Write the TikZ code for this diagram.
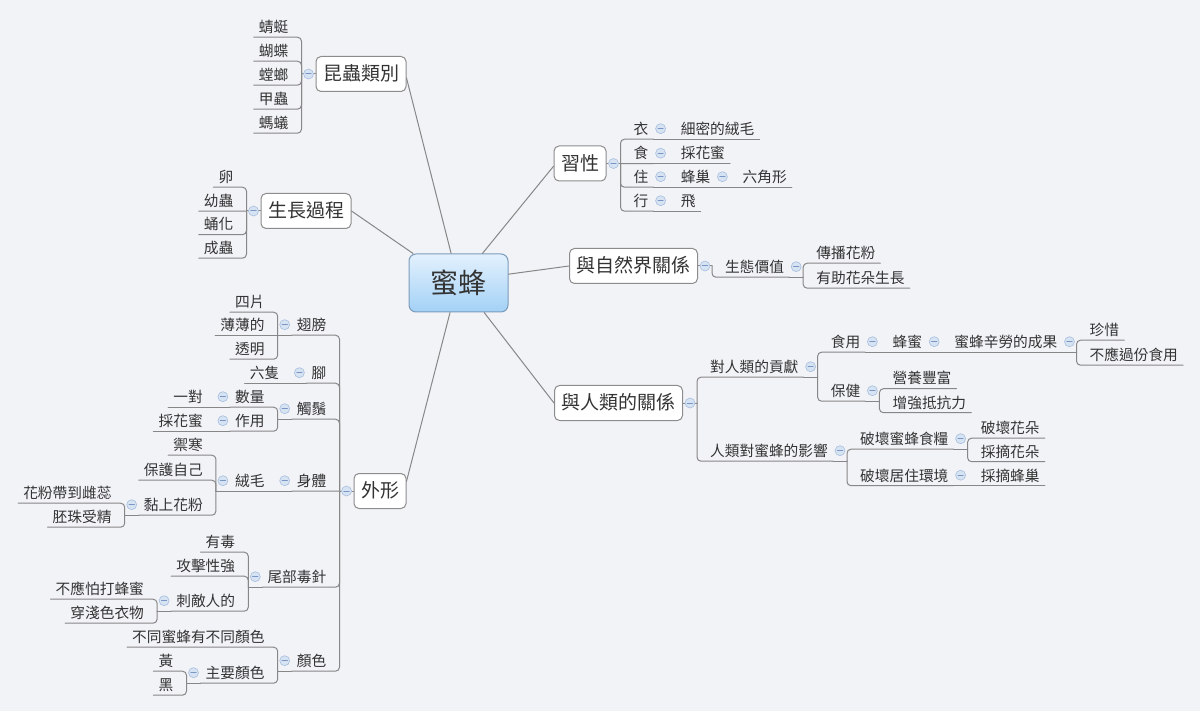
\documentclass[tikz,border=0pt]{standalone}
\usepackage{fontspec}
\setmainfont{Noto Sans CJK TC}
\definecolor{paper}{HTML}{F2F3F7}
\definecolor{ink}{HTML}{333333}
\definecolor{wire}{HTML}{878787}
\definecolor{frame}{HTML}{8C8C8C}
\definecolor{coreline}{HTML}{7C9CBB}
\definecolor{coretop}{HTML}{E3F1FD}
\definecolor{corebot}{HTML}{A3D1F6}
\definecolor{foldfill}{HTML}{D6E3F3}
\definecolor{foldline}{HTML}{A7BEDD}
\definecolor{foldbar}{HTML}{7B96C2}
\tikzset{
  core/.style={draw=coreline,line width=1pt,rounded corners=7pt,top color=coretop,bottom color=corebot,
    minimum width=99pt,minimum height=58pt,inner sep=0pt,text=ink,font=\fontsize{28pt}{30pt}\selectfont},
  topic/.style={draw=frame,line width=1pt,rounded corners=5pt,fill=white,minimum height=35pt,
    inner xsep=7pt,inner ysep=0pt,text height=16pt,text depth=2.5pt,text=ink,font=\fontsize{19pt}{21pt}\selectfont},
  leaf/.style={inner xsep=5pt,inner ysep=2.5pt,text height=14pt,text depth=2pt,text=ink,
    font=\fontsize{14.7pt}{16pt}\selectfont},
  branch/.style={draw=wire,line width=1pt},
  link/.style={draw=wire,line width=1pt,rounded corners=4pt},
  fold/.style={circle,draw=foldline,fill=foldfill,line width=0.6pt,minimum size=10pt,inner sep=0pt,
    path picture={\draw[foldbar,line width=1pt] ([xshift=-2.6pt]path picture bounding box.center)
      -- ([xshift=2.6pt]path picture bounding box.center);}}
}
\begin{document}
\begin{tikzpicture}[x=1pt,y=-1pt,line join=round,line cap=round]
  \useasboundingbox (0,0) rectangle (1200,711);
  \fill[paper] (0,0) rectangle (1200,711);

  % 中心主題與六個分支
  \node[core] (bee) at (458.5,283) {蜜蜂};
  \node[topic] (kc) at (361,74) {昆蟲類別};
  \node[topic] (sg) at (306,211) {生長過程};
  \node[topic] (xx) at (580,163.5) {習性};
  \node[topic] (zr) at (633.5,266) {與自然界關係};
  \node[topic] (rl) at (618.5,403) {與人類的關係};
  \node[topic] (wx) at (380,491) {外形};

  \draw[branch] (bee.104) -- (kc.-5);
  \draw[branch] (bee.147) -- (sg.east);
  \draw[branch] (bee.51) -- (xx.186);
  \draw[branch] (bee.10) -- (zr.west);
  \draw[branch] (bee.-49) -- (rl.west);
  \draw[branch] (bee.-106) -- (wx.20);

  % 昆蟲類別
  \draw[link] (kc.west) -- node[fold] (kc-f) {} ++(-14,0) coordinate (kc-t);
  \node[leaf,anchor=east,xshift=-8pt] (kc1) at (kc-t |- 0,26.5) {蜻蜓};
  \node[leaf,anchor=east,xshift=-8pt] (kc2) at (kc-t |- 0,50.5) {蝴蝶};
  \node[leaf,anchor=east,xshift=-8pt] (kc3) at (kc-t |- 0,74.5) {螳螂};
  \node[leaf,anchor=east,xshift=-8pt] (kc4) at (kc-t |- 0,98.5) {甲蟲};
  \node[leaf,anchor=east,xshift=-8pt] (kc5) at (kc-t |- 0,122.5) {螞蟻};
  \draw[link] (kc-t) |- (kc1.south east) -- (kc1.south west);
  \draw[link] (kc-t) |- (kc2.south east) -- (kc2.south west);
  \draw[link] (kc-t) |- (kc3.south east) -- (kc3.south west);
  \draw[link] (kc-t) |- (kc4.south east) -- (kc4.south west);
  \draw[link] (kc-t) |- (kc5.south east) -- (kc5.south west);

  % 生長過程
  \draw[link] (sg.west) -- node[fold] (sg-f) {} ++(-14,0) coordinate (sg-t);
  \node[leaf,anchor=east,xshift=-8pt] (sg1) at (sg-t |- 0,176.5) {卵};
  \node[leaf,anchor=east,xshift=-8pt] (sg2) at (sg-t |- 0,200.5) {幼蟲};
  \node[leaf,anchor=east,xshift=-8pt] (sg3) at (sg-t |- 0,224) {蛹化};
  \node[leaf,anchor=east,xshift=-8pt] (sg4) at (sg-t |- 0,247.5) {成蟲};
  \draw[link] (sg-t) |- (sg1.south east) -- (sg1.south west);
  \draw[link] (sg-t) -- (sg2.south east) -- (sg2.south west);
  \draw[link] (sg-t) |- (sg3.south east) -- (sg3.south west);
  \draw[link] (sg-t) |- (sg4.south east) -- (sg4.south west);

  % 習性
  \draw[link] (xx.east) -- node[fold] (xx-f) {} ++(14,0) coordinate (xx-t);
  \node[leaf,anchor=west,xshift=8pt] (xx1) at (xx-t |- 0,128.5) {衣};
  \node[leaf,anchor=west,xshift=8pt] (xx2) at (xx-t |- 0,153) {食};
  \node[leaf,anchor=west,xshift=8pt] (xx3) at (xx-t |- 0,176.5) {住};
  \node[leaf,anchor=west,xshift=8pt] (xx4) at (xx-t |- 0,200.5) {行};
  \draw[link] (xx-t) |- (xx1.south west) -- (xx1.south east);
  \draw[link] (xx-t) -- (xx2.south west) -- (xx2.south east);
  \draw[link] (xx-t) |- (xx3.south west) -- (xx3.south east);
  \draw[link] (xx-t) |- (xx4.south west) -- (xx4.south east);

  \draw[link] (xx1.south east) -- node[fold,yshift=10.5pt] (xx1-f) {} ++(14,0) coordinate (xx1-t);
  \node[leaf,anchor=west,xshift=8pt] (xx1a) at (xx1-t |- 0,128.5) {細密的絨毛};
  \draw[link] (xx1-t) -- (xx1a.south west) -- (xx1a.south east);
  \draw[link] (xx2.south east) -- node[fold,yshift=10.5pt] (xx2-f) {} ++(14,0) coordinate (xx2-t);
  \node[leaf,anchor=west,xshift=8pt] (xx2a) at (xx2-t |- 0,153) {採花蜜};
  \draw[link] (xx2-t) -- (xx2a.south west) -- (xx2a.south east);
  \draw[link] (xx3.south east) -- node[fold,yshift=10.5pt] (xx3-f) {} ++(14,0) coordinate (xx3-t);
  \node[leaf,anchor=west,xshift=8pt] (xx3a) at (xx3-t |- 0,176.5) {蜂巢};
  \draw[link] (xx3-t) -- (xx3a.south west) -- (xx3a.south east);
  \draw[link] (xx3a.south east) -- node[fold,yshift=10.5pt] (xx3a-f) {} ++(14,0) coordinate (xx3a-t);
  \node[leaf,anchor=west,xshift=8pt] (xx3b) at (xx3a-t |- 0,176.5) {六角形};
  \draw[link] (xx3a-t) -- (xx3b.south west) -- (xx3b.south east);
  \draw[link] (xx4.south east) -- node[fold,yshift=10.5pt] (xx4-f) {} ++(14,0) coordinate (xx4-t);
  \node[leaf,anchor=west,xshift=8pt] (xx4a) at (xx4-t |- 0,200.5) {飛};
  \draw[link] (xx4-t) -- (xx4a.south west) -- (xx4a.south east);

  % 與自然界關係
  \draw[link] (zr.east) -- node[fold] (zr-f) {} ++(14,0) coordinate (zr-t);
  \node[leaf,anchor=west,xshift=8pt] (zr1) at (zr-t |- 0,266.5) {生態價值};
  \draw[link] (zr-t) |- (zr1.south west) -- (zr1.south east);
  \draw[link] (zr1.south east) -- node[fold,yshift=10.5pt] (zr1-f) {} ++(14,0) coordinate (zr1-t);
  \node[leaf,anchor=west,xshift=8pt] (zr1a) at (zr1-t |- 0,252.5) {傳播花粉};
  \node[leaf,anchor=west,xshift=8pt] (zr1b) at (zr1-t |- 0,277.5) {有助花朵生長};
  \draw[link] (zr1-t) |- (zr1a.south west) -- (zr1a.south east);
  \draw[link] (zr1-t) |- (zr1b.south west) -- (zr1b.south east);

  % 與人類的關係
  \draw[link] (rl.east) -- node[fold] (rl-f) {} ++(14,0) coordinate (rl-t);
  \node[leaf,anchor=west,xshift=8pt] (rl1) at (rl-t |- 0,366.5) {對人類的貢獻};
  \node[leaf,anchor=west,xshift=8pt] (rl2) at (rl-t |- 0,450.5) {人類對蜜蜂的影響};
  \draw[link] (rl-t) |- (rl1.south west) -- (rl1.south east);
  \draw[link] (rl-t) |- (rl2.south west) -- (rl2.south east);

  \draw[link] (rl1.south east) -- node[fold,yshift=10.5pt] (rl1-f) {} ++(14,0) coordinate (rl1-t);
  \node[leaf,anchor=west,xshift=8pt] (rl1a) at (rl1-t |- 0,341.5) {食用};
  \node[leaf,anchor=west,xshift=8pt] (rl1b) at (rl1-t |- 0,390.5) {保健};
  \draw[link] (rl1-t) |- (rl1a.south west) -- (rl1a.south east);
  \draw[link] (rl1-t) |- (rl1b.south west) -- (rl1b.south east);

  \draw[link] (rl1a.south east) -- node[fold,yshift=10.5pt] (rl1a-f) {} ++(14,0) coordinate (rl1a-t);
  \node[leaf,anchor=west,xshift=8pt] (rl1a1) at (rl1a-t |- 0,341.5) {蜂蜜};
  \draw[link] (rl1a-t) -- (rl1a1.south west) -- (rl1a1.south east);
  \draw[link] (rl1a1.south east) -- node[fold,yshift=10.5pt] (rl1a1-f) {} ++(14,0) coordinate (rl1a1-t);
  \node[leaf,anchor=west,xshift=8pt] (rl1a2) at (rl1a1-t |- 0,341.5) {蜜蜂辛勞的成果};
  \draw[link] (rl1a1-t) -- (rl1a2.south west) -- (rl1a2.south east);
  \draw[link] (rl1a2.south east) -- node[fold,yshift=10.5pt] (rl1a2-f) {} ++(14,0) coordinate (rl1a2-t);
  \node[leaf,anchor=west,xshift=8pt] (rl1a3) at (rl1a2-t |- 0,329.5) {珍惜};
  \node[leaf,anchor=west,xshift=8pt] (rl1a4) at (rl1a2-t |- 0,354.5) {不應過份食用};
  \draw[link] (rl1a2-t) |- (rl1a3.south west) -- (rl1a3.south east);
  \draw[link] (rl1a2-t) |- (rl1a4.south west) -- (rl1a4.south east);

  \draw[link] (rl1b.south east) -- node[fold,yshift=10.5pt] (rl1b-f) {} ++(14,0) coordinate (rl1b-t);
  \node[leaf,anchor=west,xshift=8pt] (rl1b1) at (rl1b-t |- 0,378) {營養豐富};
  \node[leaf,anchor=west,xshift=8pt] (rl1b2) at (rl1b-t |- 0,402) {增強抵抗力};
  \draw[link] (rl1b-t) |- (rl1b1.south west) -- (rl1b1.south east);
  \draw[link] (rl1b-t) |- (rl1b2.south west) -- (rl1b2.south east);

  \draw[link] (rl2.south east) -- node[fold,yshift=10.5pt] (rl2-f) {} ++(14,0) coordinate (rl2-t);
  \node[leaf,anchor=west,xshift=8pt] (rl2a) at (rl2-t |- 0,438.5) {破壞蜜蜂食糧};
  \node[leaf,anchor=west,xshift=8pt] (rl2b) at (rl2-t |- 0,475) {破壞居住環境};
  \draw[link] (rl2-t) |- (rl2a.south west) -- (rl2a.south east);
  \draw[link] (rl2-t) |- (rl2b.south west) -- (rl2b.south east);

  \draw[link] (rl2a.south east) -- node[fold,yshift=10.5pt] (rl2a-f) {} ++(14,0) coordinate (rl2a-t);
  \node[leaf,anchor=west,xshift=8pt] (rl2a1) at (rl2a-t |- 0,427.5) {破壞花朵};
  \node[leaf,anchor=west,xshift=8pt] (rl2a2) at (rl2a-t |- 0,451) {採摘花朵};
  \draw[link] (rl2a-t) |- (rl2a1.south west) -- (rl2a1.south east);
  \draw[link] (rl2a-t) |- (rl2a2.south west) -- (rl2a2.south east);
  \draw[link] (rl2b.south east) -- node[fold,yshift=10.5pt] (rl2b-f) {} ++(14,0) coordinate (rl2b-t);
  \node[leaf,anchor=west,xshift=8pt] (rl2b1) at (rl2b-t |- 0,475) {採摘蜂巢};
  \draw[link] (rl2b-t) -- (rl2b1.south west) -- (rl2b1.south east);

  % 外形
  \draw[link] (wx.west) -- node[fold] (wx-f) {} ++(-14,0) coordinate (wx-t);
  \node[leaf,anchor=east,xshift=-8pt] (wx1) at (wx-t |- 0,324.5) {翅膀};
  \node[leaf,anchor=east,xshift=-8pt] (wx2) at (wx-t |- 0,372.5) {腳};
  \node[leaf,anchor=east,xshift=-8pt] (wx3) at (wx-t |- 0,408.5) {觸鬚};
  \node[leaf,anchor=east,xshift=-8pt] (wx4) at (wx-t |- 0,480.5) {身體};
  \node[leaf,anchor=east,xshift=-8pt] (wx5) at (wx-t |- 0,576.5) {尾部毒針};
  \node[leaf,anchor=east,xshift=-8pt] (wx6) at (wx-t |- 0,660.5) {顏色};
  \draw[link] (wx-t) |- (wx1.south east) -- (wx1.south west);
  \draw[link] (wx-t) |- (wx2.south east) -- (wx2.south west);
  \draw[link] (wx-t) |- (wx3.south east) -- (wx3.south west);
  \draw[link] (wx-t) -- (wx4.south east) -- (wx4.south west);
  \draw[link] (wx-t) |- (wx5.south east) -- (wx5.south west);
  \draw[link] (wx-t) |- (wx6.south east) -- (wx6.south west);

  % 翅膀、腳、觸鬚
  \draw[link] (wx1.south west) -- node[fold,yshift=10.5pt] (wx1-f) {} ++(-14,0) coordinate (wx1-t);
  \node[leaf,anchor=east,xshift=-8pt] (wx1a) at (wx1-t |- 0,301.5) {四片};
  \node[leaf,anchor=east,xshift=-8pt] (wx1b) at (wx1-t |- 0,324.5) {薄薄的};
  \node[leaf,anchor=east,xshift=-8pt] (wx1c) at (wx1-t |- 0,348.5) {透明};
  \draw[link] (wx1-t) |- (wx1a.south east) -- (wx1a.south west);
  \draw[link] (wx1-t) -- (wx1b.south east) -- (wx1b.south west);
  \draw[link] (wx1-t) |- (wx1c.south east) -- (wx1c.south west);

  \draw[link] (wx2.south west) -- node[fold,yshift=10.5pt] (wx2-f) {} ++(-14,0) coordinate (wx2-t);
  \node[leaf,anchor=east,xshift=-8pt] (wx2a) at (wx2-t |- 0,372.5) {六隻};
  \draw[link] (wx2-t) -- (wx2a.south east) -- (wx2a.south west);

  \draw[link] (wx3.south west) -- node[fold,yshift=10.5pt] (wx3-f) {} ++(-14,0) coordinate (wx3-t);
  \node[leaf,anchor=east,xshift=-8pt] (wx3a) at (wx3-t |- 0,396.5) {數量};
  \node[leaf,anchor=east,xshift=-8pt] (wx3b) at (wx3-t |- 0,420.5) {作用};
  \draw[link] (wx3-t) |- (wx3a.south east) -- (wx3a.south west);
  \draw[link] (wx3-t) |- (wx3b.south east) -- (wx3b.south west);
  \draw[link] (wx3a.south west) -- node[fold,yshift=10.5pt] (wx3a-f) {} ++(-14,0) coordinate (wx3a-t);
  \node[leaf,anchor=east,xshift=-8pt] (wx3a1) at (wx3a-t |- 0,396.5) {一對};
  \draw[link] (wx3a-t) -- (wx3a1.south east) -- (wx3a1.south west);
  \draw[link] (wx3b.south west) -- node[fold,yshift=10.5pt] (wx3b-f) {} ++(-14,0) coordinate (wx3b-t);
  \node[leaf,anchor=east,xshift=-8pt] (wx3b1) at (wx3b-t |- 0,420.5) {採花蜜};
  \draw[link] (wx3b-t) -- (wx3b1.south east) -- (wx3b1.south west);

  % 身體
  \draw[link] (wx4.south west) -- node[fold,yshift=10.5pt] (wx4-f) {} ++(-14,0) coordinate (wx4-t);
  \node[leaf,anchor=east,xshift=-8pt] (wx4a) at (wx4-t |- 0,480.5) {絨毛};
  \draw[link] (wx4-t) -- (wx4a.south east) -- (wx4a.south west);
  \draw[link] (wx4a.south west) -- node[fold,yshift=10.5pt] (wx4a-f) {} ++(-14,0) coordinate (wx4a-t);
  \node[leaf,anchor=east,xshift=-8pt] (wx4a1) at (wx4a-t |- 0,444.5) {禦寒};
  \node[leaf,anchor=east,xshift=-8pt] (wx4a2) at (wx4a-t |- 0,469.5) {保護自己};
  \node[leaf,anchor=east,xshift=-8pt] (wx4a3) at (wx4a-t |- 0,504.5) {黏上花粉};
  \draw[link] (wx4a-t) |- (wx4a1.south east) -- (wx4a1.south west);
  \draw[link] (wx4a-t) |- (wx4a2.south east) -- (wx4a2.south west);
  \draw[link] (wx4a-t) |- (wx4a3.south east) -- (wx4a3.south west);
  \draw[link] (wx4a3.south west) -- node[fold,yshift=10.5pt] (wx4a3-f) {} ++(-14,0) coordinate (wx4a3-t);
  \node[leaf,anchor=east,xshift=-8pt] (wx4a3a) at (wx4a3-t |- 0,492.5) {花粉帶到雌蕊};
  \node[leaf,anchor=east,xshift=-8pt] (wx4a3b) at (wx4a3-t |- 0,516.5) {胚珠受精};
  \draw[link] (wx4a3-t) |- (wx4a3a.south east) -- (wx4a3a.south west);
  \draw[link] (wx4a3-t) |- (wx4a3b.south east) -- (wx4a3b.south west);

  % 尾部毒針
  \draw[link] (wx5.south west) -- node[fold,yshift=10.5pt] (wx5-f) {} ++(-14,0) coordinate (wx5-t);
  \node[leaf,anchor=east,xshift=-8pt] (wx5a) at (wx5-t |- 0,541.5) {有毒};
  \node[leaf,anchor=east,xshift=-8pt] (wx5b) at (wx5-t |- 0,565.5) {攻擊性強};
  \node[leaf,anchor=east,xshift=-8pt] (wx5c) at (wx5-t |- 0,600.5) {刺敵人的};
  \draw[link] (wx5-t) |- (wx5a.south east) -- (wx5a.south west);
  \draw[link] (wx5-t) |- (wx5b.south east) -- (wx5b.south west);
  \draw[link] (wx5-t) |- (wx5c.south east) -- (wx5c.south west);
  \draw[link] (wx5c.south west) -- node[fold,yshift=10.5pt] (wx5c-f) {} ++(-14,0) coordinate (wx5c-t);
  \node[leaf,anchor=east,xshift=-8pt] (wx5c1) at (wx5c-t |- 0,588.5) {不應怕打蜂蜜};
  \node[leaf,anchor=east,xshift=-8pt] (wx5c2) at (wx5c-t |- 0,612.5) {穿淺色衣物};
  \draw[link] (wx5c-t) |- (wx5c1.south east) -- (wx5c1.south west);
  \draw[link] (wx5c-t) |- (wx5c2.south east) -- (wx5c2.south west);

  % 顏色
  \draw[link] (wx6.south west) -- node[fold,yshift=10.5pt] (wx6-f) {} ++(-14,0) coordinate (wx6-t);
  \node[leaf,anchor=east,xshift=-8pt] (wx6a) at (wx6-t |- 0,636.5) {不同蜜蜂有不同顏色};
  \node[leaf,anchor=east,xshift=-8pt] (wx6b) at (wx6-t |- 0,672.5) {主要顏色};
  \draw[link] (wx6-t) |- (wx6a.south east) -- (wx6a.south west);
  \draw[link] (wx6-t) |- (wx6b.south east) -- (wx6b.south west);
  \draw[link] (wx6b.south west) -- node[fold,yshift=10.5pt] (wx6b-f) {} ++(-14,0) coordinate (wx6b-t);
  \node[leaf,anchor=east,xshift=-8pt] (wx6b1) at (wx6b-t |- 0,660.5) {黃};
  \node[leaf,anchor=east,xshift=-8pt] (wx6b2) at (wx6b-t |- 0,684.5) {黑};
  \draw[link] (wx6b-t) |- (wx6b1.south east) -- (wx6b1.south west);
  \draw[link] (wx6b-t) |- (wx6b2.south east) -- (wx6b2.south west);
\end{tikzpicture}
\end{document}
